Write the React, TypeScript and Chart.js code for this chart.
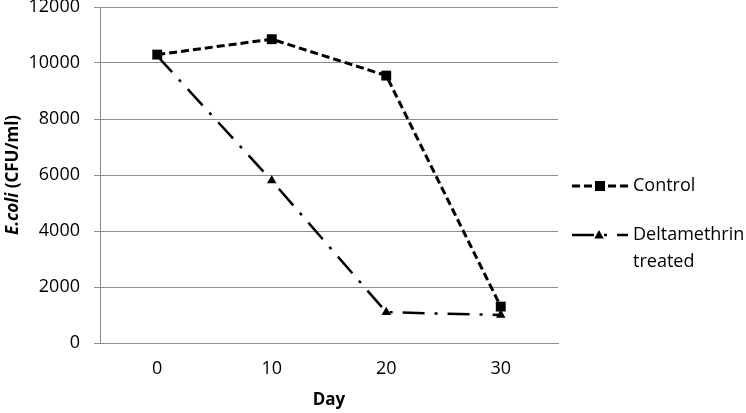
import React, { useEffect, useRef } from "react";
import { Chart, registerables } from "chart.js";

Chart.register(...registerables);

const days = ["0", "10", "20", "30"];
const controlValues = [10300, 10850, 9550, 1300];
const deltaValues = [10250, 5800, 1100, 1000];
const yTicks = [0, 2000, 4000, 6000, 8000, 10000, 12000];
const seriesNames = ["Control", "Deltamethrin treated"];

const FONT = "'Open Sans', 'Noto Sans', sans-serif";
const GRID = "#8c8c8c";
const CONTROL_DASH = [8, 4];
const DELTA_DASH = [22, 10, 3, 10];

const extrasPlugin = {
  id: "extras",
  afterDraw(chart: any) {
    const ctx = chart.ctx as CanvasRenderingContext2D;
    const area = chart.chartArea;
    ctx.save();
    // Y title
    ctx.translate(13, (area.top + area.bottom) / 2);
    ctx.rotate(-Math.PI / 2);
    ctx.fillStyle = "#000";
    ctx.textBaseline = "middle";
    const p1 = "E.coli";
    const p2 = " (CFU/ml)";
    ctx.font = `italic bold 17px ${FONT}`;
    const w1 = ctx.measureText(p1).width;
    ctx.font = `bold 17px ${FONT}`;
    const w2 = ctx.measureText(p2).width;
    const start = -(w1 + w2) / 2;
    ctx.font = `italic bold 17px ${FONT}`;
    ctx.textAlign = "left";
    ctx.fillText(p1, start, 0);
    ctx.font = `bold 17px ${FONT}`;
    ctx.fillText(p2, start + w1, 0);
    ctx.restore();

    // X title
    ctx.save();
    ctx.fillStyle = "#000";
    ctx.font = `bold 17px ${FONT}`;
    ctx.textAlign = "center";
    ctx.textBaseline = "middle";
    ctx.fillText("Day", (area.left + area.right) / 2, 400);
    ctx.restore();

    // Legend
    ctx.save();
    const lx0 = 572;
    const lx1 = 628;
    const y1 = 186;
    const y2 = 235;
    ctx.strokeStyle = "#000";
    ctx.fillStyle = "#000";
    ctx.lineWidth = 3;
    ctx.setLineDash(CONTROL_DASH);
    ctx.beginPath();
    ctx.moveTo(lx0, y1);
    ctx.lineTo(lx1, y1);
    ctx.stroke();
    ctx.setLineDash([]);
    ctx.fillRect(600 - 5, y1 - 5, 10, 10);

    ctx.lineWidth = 2.5;
    ctx.setLineDash(DELTA_DASH);
    ctx.beginPath();
    ctx.moveTo(lx0, y2);
    ctx.lineTo(lx1, y2);
    ctx.stroke();
    ctx.setLineDash([]);
    ctx.beginPath();
    ctx.moveTo(599, y2 - 5);
    ctx.lineTo(599 + 4.8, y2 + 3.5);
    ctx.lineTo(599 - 4.8, y2 + 3.5);
    ctx.closePath();
    ctx.fill();

    ctx.font = `18px ${FONT}`;
    ctx.textAlign = "left";
    ctx.textBaseline = "middle";
    ctx.fillText(seriesNames[0], 633, y1);
    ctx.fillText("Deltamethrin", 633, y2);
    ctx.fillText("treated", 633, y2 + 27);
    ctx.restore();
  },
};

export default function App() {
  const ref = useRef<HTMLCanvasElement>(null);
  useEffect(() => {
    if (!ref.current) return;
    const chart = new Chart(ref.current, {
      type: "line",
      data: {
        labels: days,
        datasets: [
          {
            label: seriesNames[0],
            data: controlValues,
            borderColor: "#000",
            backgroundColor: "#000",
            borderWidth: 3,
            borderDash: CONTROL_DASH,
            pointStyle: "rect",
            pointRadius: 7,
            pointBorderWidth: 0,
            pointBackgroundColor: "#000",
            tension: 0,
          },
          {
            label: seriesNames[1],
            data: deltaValues,
            borderColor: "#000",
            backgroundColor: "#000",
            borderWidth: 2.5,
            borderDash: DELTA_DASH,
            pointStyle: "triangle",
            pointRadius: 5.5,
            pointBorderWidth: 0,
            pointBackgroundColor: "#000",
            tension: 0,
          },
        ],
      },
      options: {
        animation: false,
        responsive: true,
        maintainAspectRatio: false,
        layout: { padding: { left: 30, top: 7, right: 188, bottom: 0 } },
        plugins: {
          legend: { display: false },
          tooltip: { enabled: false },
        },
        scales: {
          x: {
            type: "category",
            offset: true,
            grid: { display: false, drawTicks: false },
            border: { display: true, color: GRID, width: 1 },
            ticks: {
              color: "#000",
              font: { family: FONT, size: 18 },
              padding: 15,
            },
            afterFit(scale: any) {
              scale.height = 70;
              scale.paddingLeft = 0;
              scale.paddingRight = 0;
            },
          },
          y: {
            min: 0,
            max: 12000,
            afterBuildTicks(scale: any) {
              scale.ticks = yTicks.map((v) => ({ value: v }));
            },
            grid: { color: GRID, lineWidth: 1, tickLength: 6, drawTicks: true },
            border: { display: true, color: GRID, width: 1 },
            ticks: {
              color: "#000",
              font: { family: FONT, size: 18 },
              padding: 14,
              callback: (v: any) => String(v),
            },
            afterFit(scale: any) {
              scale.width = 70;
              scale.paddingTop = 0;
              scale.paddingBottom = 0;
            },
          },
        },
      },
      plugins: [extrasPlugin],
    });
    return () => chart.destroy();
  }, []);
  return (
    <div style={{ position: "absolute", left: 0, top: 0, width: 746, height: 413, background: "#fff" }}>
      <canvas ref={ref} />
    </div>
  );
}
